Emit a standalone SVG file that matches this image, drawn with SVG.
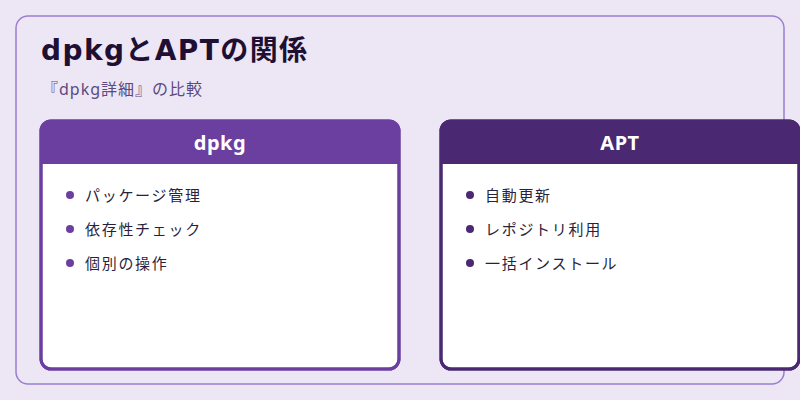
<svg xmlns="http://www.w3.org/2000/svg" width="800" height="400" viewBox="0 0 800 400">
<defs>
<style>
.jp{font-family:"Noto Sans","Noto Sans CJK JP",sans-serif}
.title{font-family:"DejaVu Sans","Noto Sans CJK JP",sans-serif;font-size:28px;font-weight:700;fill:#1f1033;letter-spacing:1.4px}
.sub{font-size:16px;fill:#5b4a7e;letter-spacing:1px}
.hdr{font-size:20px;font-weight:700;fill:#ffffff;letter-spacing:0.5px}
.item{font-size:15px;fill:#2a1f3d;letter-spacing:1.7px}
.card{fill:#ffffff;stroke-width:3}
</style>
<clipPath id="cl"><rect x="41" y="121" width="358" height="248" rx="10"/></clipPath>
<clipPath id="cr"><rect x="441" y="121" width="358" height="248" rx="10"/></clipPath>
</defs>
<rect width="800" height="400" fill="#ede6f5"/>
<rect id="panel" x="16" y="16" width="768" height="368" rx="12" fill="#ede6f5" stroke="#9b7fcf" stroke-width="1.5"/>
<text class="title" x="41" y="60">dpkgとAPTの関係</text>
<text class="jp sub" x="42" y="95">『dpkg詳細』の比較</text>
<g id="dpkg">
<rect class="card" x="41" y="121" width="358" height="248" rx="10" stroke="#6b3fa0"/>
<rect x="41" y="121" width="358" height="43" fill="#6b3fa0" clip-path="url(#cl)"/>
<rect x="41" y="121" width="358" height="248" rx="10" fill="none" stroke="#6b3fa0" stroke-width="3"/>
<text class="jp hdr" x="220" y="150" text-anchor="middle">dpkg</text>
<circle cx="70" cy="195" r="4" fill="#6b3fa0"/>
<text class="jp item" x="85" y="201">パッケージ管理</text>
<circle cx="70" cy="229" r="4" fill="#6b3fa0"/>
<text class="jp item" x="85" y="235">依存性チェック</text>
<circle cx="70" cy="263" r="4" fill="#6b3fa0"/>
<text class="jp item" x="85" y="269">個別の操作</text>
</g>
<g id="apt">
<rect class="card" x="441" y="121" width="358" height="248" rx="10" stroke="#4a2872"/>
<rect x="441" y="121" width="358" height="43" fill="#4a2872" clip-path="url(#cr)"/>
<rect x="441" y="121" width="358" height="248" rx="10" fill="none" stroke="#4a2872" stroke-width="3"/>
<text class="jp hdr" x="620" y="150" text-anchor="middle">APT</text>
<circle cx="470" cy="195" r="4" fill="#4a2872"/>
<text class="jp item" x="485" y="201">自動更新</text>
<circle cx="470" cy="229" r="4" fill="#4a2872"/>
<text class="jp item" x="485" y="235">レポジトリ利用</text>
<circle cx="470" cy="263" r="4" fill="#4a2872"/>
<text class="jp item" x="485" y="269">一括インストール</text>
</g>
<g id="connectors"></g>
</svg>
